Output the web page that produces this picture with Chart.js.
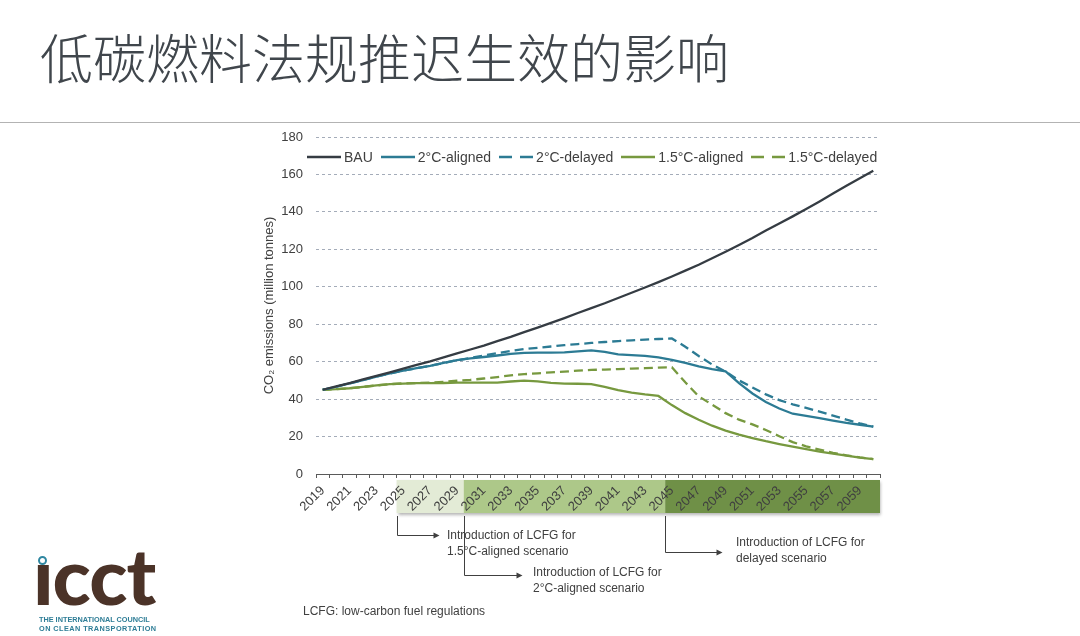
<!DOCTYPE html>
<html>
<head>
<meta charset="utf-8">
<script src="https://cdn.jsdelivr.net/npm/chart.js@4.4.1/dist/chart.umd.min.js"></script>
<style>
html,body{margin:0;padding:0;background:#fff;}
body{width:1080px;height:636px;position:relative;overflow:hidden;font-family:"Liberation Sans",Arial,sans-serif;color:#404040;}
#title{position:absolute;left:40px;top:30px;font-family:"Noto Sans CJK SC",sans-serif;font-size:53px;line-height:53px;color:#40464c;font-weight:300;white-space:nowrap;}
#rule{position:absolute;left:0;top:122px;width:1080px;height:1px;background:#b3b3b3;}
#wrap{position:absolute;left:0;top:0;width:1080px;height:636px;}
#legend{position:absolute;left:307px;top:148px;height:18px;display:flex;align-items:center;font-size:14px;color:#404040;white-space:nowrap;}
#legend .item{display:flex;align-items:center;margin-right:8px;}
#legend svg{display:block;margin-right:3px;}
.note{position:absolute;font-size:12px;line-height:16px;color:#404040;white-space:nowrap;}
#logo{position:absolute;left:33px;top:535px;font-family:Lato,sans-serif;font-weight:900;font-size:79px;line-height:1;color:#4b3328;letter-spacing:-1px;}
#dot{position:absolute;left:38px;top:556px;width:5px;height:5px;border:2.5px solid #2f87a1;border-radius:50%;}
.lt{position:absolute;left:39px;font-size:7.3px;line-height:9px;font-weight:bold;color:#2e7d96;white-space:nowrap;}
</style>
</head>
<body>
<div id="title">低碳燃料法规推迟生效的影响</div>
<div id="rule"></div>
<div id="wrap"><canvas id="c" width="1080" height="636"></canvas></div>
<div id="legend"></div>
<div class="note" style="left:447px;top:527px;">Introduction of LCFG for<br>1.5°C-aligned scenario</div>
<div class="note" style="left:533px;top:564px;">Introduction of LCFG for<br>2°C-aligned scenario</div>
<div class="note" style="left:736px;top:534px;">Introduction of LCFG for<br>delayed scenario</div>
<div class="note" style="left:303px;top:603px;">LCFG: low-carbon fuel regulations</div>
<div id="logo">ıcct</div>
<div id="dot"></div>
<div class="lt" style="top:615px;">THE INTERNATIONAL COUNCIL</div>
<div class="lt" style="top:624px;letter-spacing:0.45px;">ON CLEAN TRANSPORTATION</div>
<script>
// ---- data ----
const years = ['2019','2020','2021','2022','2023','2024','2025','2026','2027','2028','2029','2030',
  '2031','2032','2033','2034','2035','2036','2037','2038','2039','2040',
  '2041','2042','2043','2044','2045','2046','2047','2048','2049','2050',
  '2051','2052','2053','2054','2055','2056','2057','2058','2059','2060'];

const bau = [45, 46.8, 48.6, 50.5, 52.4, 54.3, 56.3, 58.3, 60.2, 62.3, 64.4, 66.5,
  68.6, 71, 73.2, 75.8, 78.2, 80.7, 83.3, 86, 88.6, 91.2,
  94, 96.8, 99.6, 102.5, 105.5, 108.6, 111.8, 115.2, 118.7, 122.3,
  126, 130, 133.8, 137.6, 141.5, 145.6, 149.8, 154, 158, 162];

const aligned2 = [45, 46.6, 48.4, 50.2, 52, 53.7, 55.2, 56.5, 57.8, 59.3, 60.8, 61.8,
  62.5, 63.3, 64.2, 64.7, 64.8, 64.8, 65, 65.5, 66, 65.2,
  63.9, 63.5, 63.1, 62.3, 61, 59.3, 57.5, 56, 54.8, 48.5,
  43, 38.5, 35, 32.2, 31, 29.8, 28.5, 27.3, 26.3, 25.3];

const delayed2 = [45, 46.6, 48.4, 50.2, 52, 53.7, 55.2, 56.5, 57.8, 59.3, 60.8, 62,
  63.3, 64.5, 65.7, 66.7, 67.4, 68.1, 68.8, 69.4, 70, 70.5,
  71, 71.4, 71.8, 72.1, 72.4, 68, 63, 58.5, 54.7, 50,
  46.2, 42.5, 39.5, 37.2, 35.3, 33.3, 31.2, 29, 27, 25.3];

const aligned15 = [45, 45.3, 45.8, 46.5, 47.3, 48, 48.3, 48.5, 48.5, 48.6, 48.8, 48.8,
  48.8, 48.8, 49.4, 49.9, 49.5, 48.7, 48.3, 48.2, 48, 46.5,
  44.8, 43.5, 42.5, 41.7, 36.8, 32.5, 29, 25.8, 23.2, 21,
  19.2, 17.5, 16, 14.6, 13.3, 12, 10.9, 9.8, 8.8, 8];

const delayed15 = [45, 45.3, 45.8, 46.5, 47.3, 48, 48.4, 48.6, 48.8, 49.2, 49.8, 50.3,
  51, 51.8, 52.7, 53.3, 53.8, 54.3, 54.7, 55.2, 55.6, 55.8,
  56, 56.3, 56.5, 56.8, 57, 49, 41.5, 37, 32.5, 29,
  26.5, 23.5, 20.2, 17, 14.8, 13, 11.3, 10, 8.9, 8];

const seriesNames = ['BAU', '2°C-aligned', '2°C-delayed', '1.5°C-aligned', '1.5°C-delayed'];
const seriesValues = [bau, aligned2, delayed2, aligned15, delayed15];
const seriesColors = ['#353c43', '#2c7b94', '#2c7b94', '#77993f', '#77993f'];
const seriesDashed = [false, false, true, false, true];

const yTicks = [0, 20, 40, 60, 80, 100, 120, 140, 160, 180];

// policy phases shown under the axis
const bandFrom = ['2025', '2030', '2045'];
const bandTo = ['2029', '2044', '2060'];
const bandColors = ['#e3ebd6', '#adc889', '#6f9047'];

// annotation arrows: category boundary where the arrow starts
const arrowAt = ['2025', '2030', '2045'];

// ---- chart ----
Chart.defaults.font.family = '"Liberation Sans", Arial, sans-serif';
Chart.defaults.color = '#404040';

const decor = {
  id: 'decor',
  beforeDraw(chart) {
    const x = chart.scales.x, ca = chart.chartArea, c = chart.ctx;
    const step = x.getPixelForValue(1) - x.getPixelForValue(0);
    const top = ca.bottom + 6, h = 33;
    const lefts = bandFrom.map(v => x.getPixelForValue(years.indexOf(v)) - step / 2);
    const rights = bandTo.map(v => x.getPixelForValue(years.indexOf(v)) + step / 2);
    c.save();
    c.shadowColor = 'rgba(0,0,0,0.30)';
    c.shadowBlur = 3; c.shadowOffsetY = 2; c.shadowOffsetX = 1;
    c.fillStyle = '#ffffff';
    c.fillRect(lefts[0], top, rights[rights.length - 1] - lefts[0], h);
    c.restore();
    c.save();
    for (let i = 0; i < bandFrom.length; i++) {
      c.fillStyle = bandColors[i];
      c.fillRect(lefts[i], top, rights[i] - lefts[i], h);
    }
    c.restore();
  },
  afterDraw(chart) {
    const x = chart.scales.x, ca = chart.chartArea, c = chart.ctx;
    const step = x.getPixelForValue(1) - x.getPixelForValue(0);
    const drops = [61, 101, 77.5];
    const lens = [42, 58, 57];
    c.save();
    c.strokeStyle = '#404040'; c.fillStyle = '#404040'; c.lineWidth = 1;
    arrowAt.forEach((v, i) => {
      const x0 = Math.round(x.getPixelForValue(years.indexOf(v)) - step / 2) + 0.5;
      const y0 = ca.bottom + 42, ym = Math.round(ca.bottom + drops[i]) + 0.5, x1 = x0 + lens[i];
      c.beginPath(); c.moveTo(x0, y0); c.lineTo(x0, ym); c.lineTo(x1 - 5, ym); c.stroke();
      c.beginPath(); c.moveTo(x1, ym); c.lineTo(x1 - 6, ym - 3); c.lineTo(x1 - 6, ym + 3); c.closePath(); c.fill();
    });
    c.restore();
  }
};

const datasets = seriesNames.map((n, i) => ({
  label: n,
  data: seriesValues[i],
  borderColor: seriesColors[i],
  backgroundColor: seriesColors[i],
  borderWidth: 2.3,
  borderDash: seriesDashed[i] ? [9, 5] : [],
  pointRadius: 0,
  tension: 0,
  fill: false
}));

new Chart(document.getElementById('c'), {
  type: 'line',
  data: { labels: years, datasets },
  plugins: [decor],
  options: {
    responsive: false,
    animation: false,
    layout: { padding: { left: 256, right: 200, top: 137, bottom: 102 } },
    plugins: { legend: { display: false }, tooltip: { enabled: false } },
    scales: {
      x: {
        type: 'category',
        offset: true,
        grid: { offset: true, drawOnChartArea: false, drawTicks: true, tickLength: 4, color: '#5a5a5a', lineWidth: 1 },
        border: { display: true, color: '#5a5a5a', width: 1 },
        ticks: {
          autoSkip: false, maxRotation: 45, minRotation: 45, padding: 5,
          font: { size: 13 }, color: '#404040',
          callback: (v, i) => (i % 2 === 0 ? years[i] : '')
        },
        afterFit: s => { s.height = 60; }
      },
      y: {
        min: yTicks[0], max: yTicks[yTicks.length - 1],
        afterBuildTicks: s => { s.ticks = yTicks.map(v => ({ value: v })); },
        ticks: { padding: 13, font: { size: 13 }, color: '#404040' },
        grid: {
          drawTicks: false, lineWidth: 1,
          color: ctx => (ctx.tick && ctx.tick.value === 0 ? 'rgba(0,0,0,0)' : '#a4acb9')
        },
        border: { display: false, dash: [3, 3] },
        title: { display: true, text: 'CO₂ emissions (million tonnes)', font: { size: 13 }, color: '#404040', padding: { top: 6, bottom: 0 } },
        afterFit: s => { s.width = 60; }
      }
    }
  }
});

// ---- legend (built from the series definitions) ----
const lg = document.getElementById('legend');
seriesNames.forEach((n, i) => {
  const it = document.createElement('div');
  it.className = 'item';
  const dash = seriesDashed[i] ? 'stroke-dasharray="13 8"' : '';
  it.innerHTML = '<svg width="34" height="4"><line x1="0" y1="2" x2="34" y2="2" stroke="' + seriesColors[i] +
    '" stroke-width="2.3" ' + dash + '/></svg><span>' + n + '</span>';
  lg.appendChild(it);
});
</script>
</body>
</html>
